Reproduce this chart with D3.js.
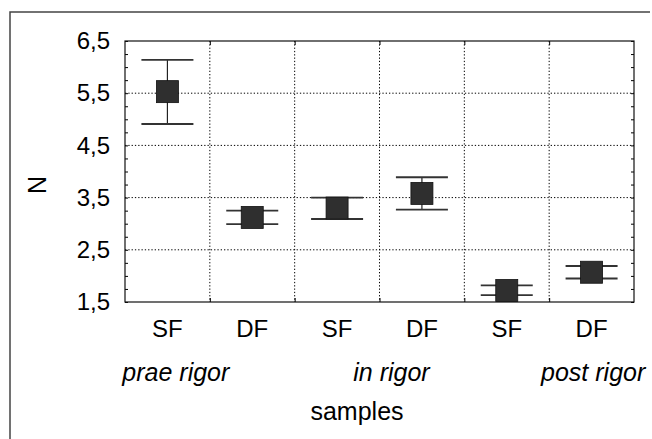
<!DOCTYPE html>
<html>
<head>
<meta charset="utf-8">
<script src="https://cdn.jsdelivr.net/npm/d3@7"></script>
<style>
  body { margin: 0; background: #fff; }
  text { font-family: Arial, "Liberation Sans", sans-serif; fill: #000; }
</style>
</head>
<body>
<div id="chart"></div>
<script>
// values
const samples = ['SF', 'DF', 'SF', 'DF', 'SF', 'DF']
const groups = ['prae rigor', 'in rigor', 'post rigor']
const means = [5.53, 3.12, 3.30, 3.58, 1.72, 2.07]
const lower = [4.91, 2.99, 3.09, 3.27, 1.63, 1.95]
const upper = [6.14, 3.25, 3.50, 3.89, 1.82, 2.19]
const yTicks = [1.5, 2.5, 3.5, 4.5, 5.5, 6.5]

const width = 652,
  height = 439,
  plotLeft = 125,
  plotRight = 634,
  plotTop = 41,
  plotBottom = 302

const svg = d3.select('#chart')
  .append('svg')
  .attr('width', width)
  .attr('height', height)

const x = d3.scaleBand()
  .domain(d3.range(samples.length))
  .range([plotLeft, plotRight])

const y = d3.scaleLinear()
  .domain([1.5, 6.5])
  .range([plotBottom, plotTop])

const cx = i => x(i) + x.bandwidth() / 2
const fmt = d => d3.format('.1f')(d).replace('.', ',')

// outer frame of the scan
svg.append('path')
  .attr('d', `M10,${height + 2} L10,12 L${width - 2},12`)
  .attr('fill', 'none')
  .attr('stroke', '#444')
  .attr('stroke-width', 1.5)

// dotted grid
svg.append('g')
  .selectAll('line')
  .data(yTicks.slice(1, -1))
  .enter()
  .append('line')
  .attr('x1', plotLeft).attr('x2', plotRight)
  .attr('y1', d => y(d)).attr('y2', d => y(d))
  .attr('stroke', '#000')
  .attr('stroke-dasharray', '1.3,2')

svg.append('g')
  .selectAll('line')
  .data(d3.range(1, samples.length))
  .enter()
  .append('line')
  .attr('x1', d => x(d)).attr('x2', d => x(d))
  .attr('y1', plotTop).attr('y2', plotBottom)
  .attr('stroke', '#000')
  .attr('stroke-dasharray', '1.3,2')

// small inside ticks
const minor = d3.range(1.5, 6.51, 0.25)
svg.append('g')
  .attr('transform', `translate(${plotLeft},0)`)
  .call(d3.axisRight(y).tickValues(minor).tickSize(3).tickFormat(''))
  .call(g => g.select('.domain').remove())
svg.append('g')
  .attr('transform', `translate(${plotRight},0)`)
  .call(d3.axisLeft(y).tickValues(minor).tickSize(3).tickFormat(''))
  .call(g => g.select('.domain').remove())

const bandEdges = d3.range(1, samples.length).map(i => x(i))
svg.append('g')
  .attr('transform', `translate(0,${plotBottom})`)
  .call(d3.axisTop(d3.scaleIdentity()).tickValues(bandEdges).tickSize(4).tickFormat(''))
  .call(g => g.select('.domain').remove())
svg.append('g')
  .attr('transform', `translate(0,${plotTop})`)
  .call(d3.axisBottom(d3.scaleIdentity()).tickValues(bandEdges).tickSize(4).tickFormat(''))
  .call(g => g.select('.domain').remove())

// plot frame
svg.append('rect')
  .attr('x', plotLeft)
  .attr('y', plotTop)
  .attr('width', plotRight - plotLeft)
  .attr('height', plotBottom - plotTop)
  .attr('fill', 'none')
  .attr('stroke', '#111')
  .attr('stroke-width', 1.2)

// y axis labels
svg.append('g')
  .attr('transform', `translate(${plotLeft},0)`)
  .call(d3.axisLeft(y).tickValues(yTicks).tickSize(0).tickPadding(15).tickFormat(fmt))
  .call(g => g.select('.domain').remove())
  .selectAll('text')
  .style('font-size', '24px')
  .style('font-family', 'Arial, "Liberation Sans", sans-serif')
  .attr('fill', '#000')

// whiskers
const capW = 52
svg.append('g')
  .selectAll('line')
  .data(means)
  .enter()
  .append('line')
  .attr('x1', (d, i) => cx(i)).attr('x2', (d, i) => cx(i))
  .attr('y1', (d, i) => y(upper[i])).attr('y2', (d, i) => y(lower[i]))
  .attr('stroke', '#222')
  .attr('stroke-width', 1.2)

const caps = svg.append('g')
caps.selectAll('.up')
  .data(upper)
  .enter()
  .append('line')
  .attr('x1', (d, i) => cx(i) - capW / 2).attr('x2', (d, i) => cx(i) + capW / 2)
  .attr('y1', d => y(d)).attr('y2', d => y(d))
  .attr('stroke', '#333')
  .attr('stroke-width', 1.8)
caps.selectAll('.low')
  .data(lower)
  .enter()
  .append('line')
  .attr('x1', (d, i) => cx(i) - capW / 2).attr('x2', (d, i) => cx(i) + capW / 2)
  .attr('y1', d => y(d)).attr('y2', d => y(d))
  .attr('stroke', '#333')
  .attr('stroke-width', 1.8)

// mean markers
const box = 22
svg.append('clipPath')
  .attr('id', 'plot')
  .append('rect')
  .attr('x', plotLeft).attr('y', plotTop)
  .attr('width', plotRight - plotLeft).attr('height', plotBottom - plotTop)

svg.append('g')
  .attr('clip-path', 'url(#plot)')
  .selectAll('rect')
  .data(means)
  .enter()
  .append('rect')
  .attr('x', (d, i) => cx(i) - box / 2)
  .attr('y', d => y(d) - box / 2)
  .attr('width', box)
  .attr('height', box)
  .attr('fill', '#2f2f2f')
  .attr('stroke', '#111')
  .attr('stroke-width', 0.8)

// category labels
svg.append('g')
  .selectAll('text')
  .data(samples)
  .enter()
  .append('text')
  .attr('x', (d, i) => cx(i))
  .attr('y', 337)
  .attr('text-anchor', 'middle')
  .style('font-size', '24px')
  .text(d => d)

// group labels, placed like the original typed line
const groupShift = [-34, 12, 44]
svg.append('g')
  .selectAll('text')
  .data(groups)
  .enter()
  .append('text')
  .attr('x', (d, i) => x(i * 2 + 1) + groupShift[i])
  .attr('y', 381)
  .attr('text-anchor', 'middle')
  .style('font-size', '25px')
  .style('font-style', 'italic')
  .text(d => d)

svg.append('text')
  .attr('x', 357)
  .attr('y', 420)
  .attr('text-anchor', 'middle')
  .style('font-size', '25px')
  .text('samples')

svg.append('text')
  .attr('transform', 'translate(46,185) rotate(-90)')
  .attr('text-anchor', 'middle')
  .style('font-size', '25px')
  .text('N')
</script>
</body>
</html>
